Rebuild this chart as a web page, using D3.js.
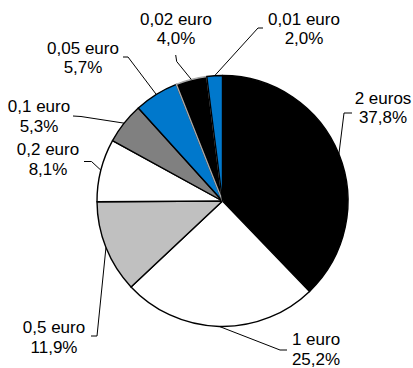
<!DOCTYPE html>
<html>
<head>
<meta charset="utf-8">
<script src="https://cdn.jsdelivr.net/npm/d3@7"></script>
<style>
  html, body { margin: 0; padding: 0; background: #fff; }
  svg { display: block; }
  text { font-family: "Liberation Sans", Arial, sans-serif; font-size: 17px; fill: #000; }
</style>
</head>
<body>
<svg id="chart" width="413" height="368"></svg>
<script>
// Coin denominations, clockwise from 12 o'clock
const categories = ["2 euros", "1 euro", "0,5 euro", "0,2 euro", "0,1 euro", "0,05 euro", "0,02 euro", "0,01 euro"];
// Share of each denomination (%)
const shares = [37.8, 25.2, 11.9, 8.1, 5.3, 5.7, 4.0, 2.0];

// Slice styling
const fills   = ["#000000", "#ffffff", "#c0c0c0", "#ffffff", "#808080", "#0078cc", "#000000", "#0078cc"];
const strokes = ["#000000", "#000000", "#000000", "#000000", "#000000", "#000000", "#a8a8a8", "#000000"];

// Label placement: centre x, first baseline y, and the leader's elbow points
const labelLayout = [
  { x: 383, y: 103.5, leader: [[352, 113], [344, 113]] },
  { x: 316, y: 345,   leader: [[287, 350], [280, 350]] },
  { x: 54,  y: 333,   leader: [[91, 336], [97, 336]] },
  { x: 48,  y: 155,   leader: [[84, 161.5], [91.5, 161.5]] },
  { x: 39,  y: 112,   leader: [[73, 116], [81, 116.5]] },
  { x: 83,  y: 53.5,  leader: [[123, 57], [128, 57]] },
  { x: 176, y: 24.5,  leader: [[175.7, 55], [176.7, 61.5]] },
  { x: 304, y: 24.5,  leader: [[263, 28], [258, 28]] }
];

const cx = 222.5, cy = 201, radius = 125.5, lineGap = 19.5;

const locale = d3.formatLocale({ decimal: ",", thousands: " ", grouping: [3], currency: ["", " €"] });
const pct = locale.format(".1f");

const svg = d3.select("#chart");
const g = svg.append("g").attr("transform", `translate(${cx},${cy})`);

const pie = d3.pie().sort(null).value(d => d).startAngle(0).endAngle(2 * Math.PI);
const arcs = pie(shares);
const arc = d3.arc().innerRadius(0).outerRadius(radius);

g.selectAll("path.slice")
  .data(arcs)
  .join("path")
  .attr("class", "slice")
  .attr("d", arc)
  .attr("fill", (d, i) => fills[i])
  .attr("stroke", (d, i) => strokes[i])
  .attr("stroke-width", 1.4)
  .attr("stroke-linejoin", "round");

// Point on the rim at the middle of each slice
const rimPoint = d => {
  const a = (d.startAngle + d.endAngle) / 2;
  return [cx + radius * Math.sin(a), cy - radius * Math.cos(a)];
};

const line = d3.line();
svg.selectAll("path.leader")
  .data(arcs)
  .join("path")
  .attr("class", "leader")
  .attr("d", (d, i) => line([...labelLayout[i].leader, rimPoint(d)]))
  .attr("fill", "none")
  .attr("stroke", "#000")
  .attr("stroke-width", 1);

const labels = svg.selectAll("text.lbl")
  .data(arcs)
  .join("text")
  .attr("class", "lbl")
  .attr("text-anchor", "middle");

labels.append("tspan")
  .attr("x", (d, i) => labelLayout[i].x)
  .attr("y", (d, i) => labelLayout[i].y)
  .text((d, i) => categories[i]);

labels.append("tspan")
  .attr("x", (d, i) => labelLayout[i].x)
  .attr("y", (d, i) => labelLayout[i].y + lineGap)
  .text(d => pct(d.data) + "%");
</script>
</body>
</html>
